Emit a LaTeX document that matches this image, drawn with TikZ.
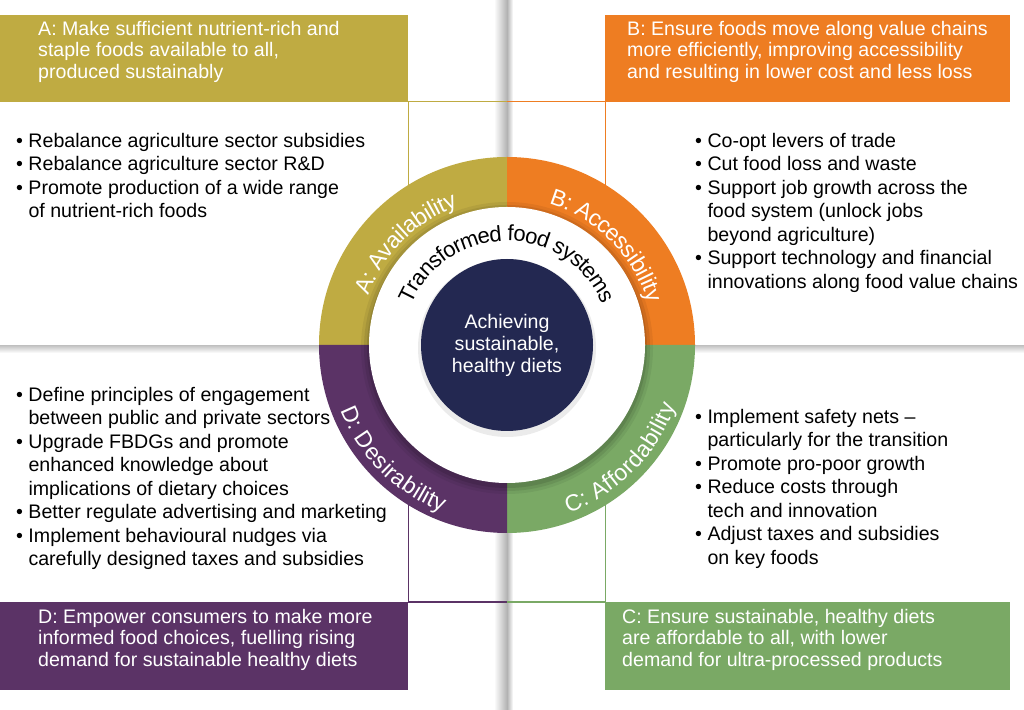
\documentclass[tikz,border=0pt]{standalone}
\usepackage{fontspec}
\setmainfont{Liberation Sans}
\usetikzlibrary{decorations.text}
\definecolor{colA}{HTML}{BFAB42}
\definecolor{colB}{HTML}{EE7D22}
\definecolor{colC}{HTML}{7AA965}
\definecolor{colD}{HTML}{5B3366}
\definecolor{navy}{HTML}{232851}
\begin{document}
\begin{tikzpicture}[x=1pt,y=1pt,
  hdr/.style={anchor=north west,inner sep=0pt,text=white,align=left,font=\fontsize{19.6}{21.5}\selectfont},
  bul/.style={anchor=north west,inner sep=0pt,align=left,font=\fontsize{19.6}{23.5}\selectfont},
  ring/.style={postaction={decorate,decoration={text along path,text align=center,raise=-8pt,text={|\fontsize{23}{23}\selectfont\color{white}|#1}}}},
  ringk/.style={postaction={decorate,decoration={text along path,text align=center,raise=-8pt,text={|\fontsize{22}{22}\selectfont|#1}}}}]
\useasboundingbox (0,0) rectangle (1024,709);
\fill[white] (0,0) rectangle (1024,709);
% shadows
\shade[left color=white,right color=black!30] (494,0) rectangle (507,709);
\shade[left color=black!30,right color=white] (507,0) rectangle (513,709);
\shade[top color=black!25,bottom color=white] (0,356) rectangle (1024,364);
\fill[white] (0,364) rectangle (1024,375);
% header boxes
\fill[colA] (0,607) rectangle (408,694);
\fill[colB] (605,607) rectangle (1010,694);
\fill[colD] (0,19) rectangle (408,107);
\fill[colC] (605,19) rectangle (1010,107);
% thin frame lines
\draw[colA,line width=1pt] (408,607) -- (507,607);
\draw[colB,line width=1pt] (507,607) -- (605,607);
\draw[colA,line width=1pt] (408,607) -- (408,460);
\draw[colB,line width=1pt] (605,607) -- (605,460);
\draw[colD,line width=1pt] (408,107) -- (507,107);
\draw[colC,line width=1pt] (507,107) -- (605,107);
\draw[colD,line width=1pt] (408,107) -- (408,260);
\draw[colC,line width=1pt] (605,107) -- (605,260);
% ring quadrants
\coordinate (O) at (507,364);
\fill[colA] (O) -- ++(180:188) arc (180:90:188) -- cycle;
\fill[colB] (O) -- ++(90:188) arc (90:0:188) -- cycle;
\fill[colC] (O) -- ++(0:188) arc (0:-90:188) -- cycle;
\fill[colD] (O) -- ++(-90:188) arc (-90:-180:188) -- cycle;
\foreach \r/\o in {146/0.06,143/0.08,140/0.10}{\fill[black,opacity=\o] (507,361) circle (\r);}
\fill[white] (O) circle (138);
\fill[black,opacity=0.08] (507,361) circle (89);
\node[circle,fill=navy,minimum size=172pt,inner sep=0pt,text=white,align=center,font=\fontsize{19.6}{22}\selectfont] (core) at (O) {Achieving\\sustainable,\\healthy diets};
% ring labels
\path[ring={A: Availability}] (O) ++(178:155) arc (178:92:155);
\path[ring={B: Accessibility}] (O) ++(88:155) arc (88:2:155);
\path[ring={C: Affordability}] (O) ++(-88:171) arc (-88:-2:171);
\path[ring={D: Desirability}] (O) ++(-178:171) arc (-178:-92:171);
\path[ringk={Transformed food systems}] (O) ++(155:112) arc (155:25:112);
% header texts
\node[hdr] (ha) at (38,688) {A: Make sufficient nutrient-rich and\\staple foods available to all,\\produced sustainably};
\node[hdr] (hb) at (627,688) {B: Ensure foods move along value chains\\more efficiently, improving accessibility\\and resulting in lower cost and less loss};
\node[hdr] (hd) at (38,100) {D: Empower consumers to make more\\informed food choices, fuelling rising\\demand for sustainable healthy diets};
\node[hdr] (hc) at (622,100) {C: Ensure sustainable, healthy diets\\are affordable to all, with lower\\demand for ultra-processed products};
% bullets
\node[bul] (la) at (16,576) {• Rebalance agriculture sector subsidies\\• Rebalance agriculture sector R\&D\\• Promote production of a wide range\\\phantom{• }of nutrient-rich foods};
\node[bul] (lb) at (695,576) {• Co-opt levers of trade\\• Cut food loss and waste\\• Support job growth across the\\\phantom{• }food system (unlock jobs\\\phantom{• }beyond agriculture)\\• Support technology and financial\\\phantom{• }innovations along food value chains};
\node[bul] (ld) at (16,322) {• Define principles of engagement\\\phantom{• }between public and private sectors\\• Upgrade FBDGs and promote\\\phantom{• }enhanced knowledge about\\\phantom{• }implications of dietary choices\\• Better regulate advertising and marketing\\• Implement behavioural nudges via\\\phantom{• }carefully designed taxes and subsidies};
\node[bul] (lc) at (695,300) {• Implement safety nets –\\\phantom{• }particularly for the transition\\• Promote pro-poor growth\\• Reduce costs through\\\phantom{• }tech and innovation\\• Adjust taxes and subsidies\\\phantom{• }on key foods};
\end{tikzpicture}
\end{document}
